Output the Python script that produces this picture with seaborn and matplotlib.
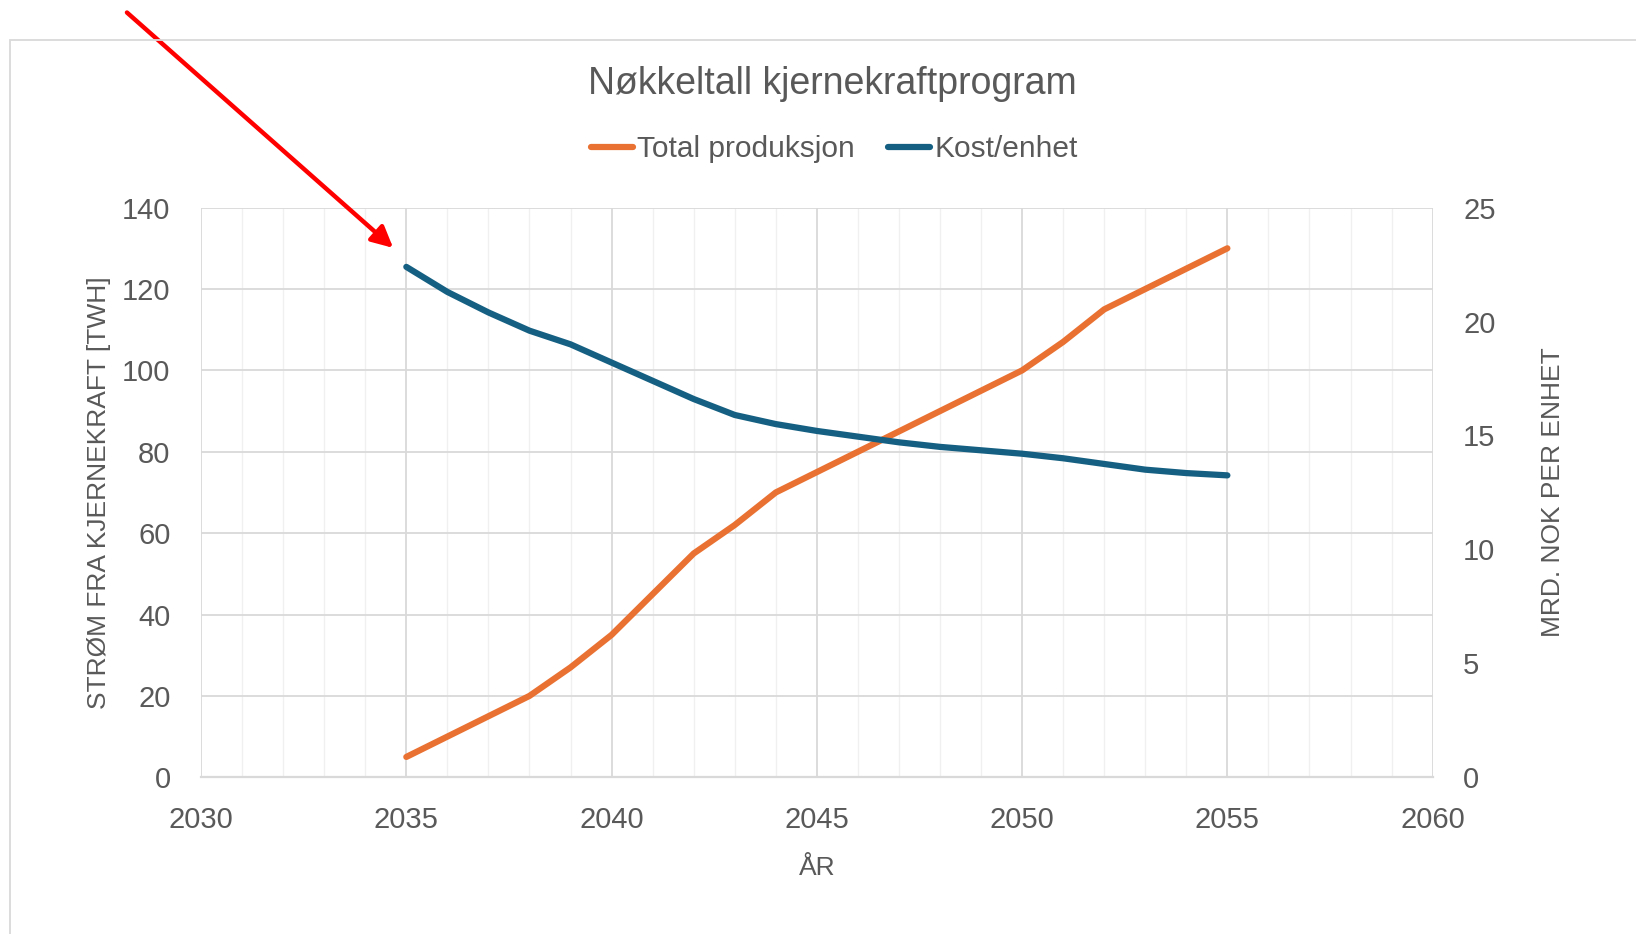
import pandas as pd
import matplotlib.pyplot as plt
import seaborn as sns
from matplotlib.patches import Rectangle
from matplotlib.ticker import MultipleLocator

# data lest av fra figuren
aar = list(range(2035, 2056))
total_produksjon = [5, 10, 15, 20, 27, 35, 45, 55, 62, 70, 75,
                    80, 85, 90, 95, 100, 107, 115, 120, 125, 130]
kost_enhet = [22.4, 21.3, 20.4, 19.6, 19.0, 18.2, 17.4, 16.6, 15.9, 15.5, 15.2,
              14.95, 14.7, 14.5, 14.35, 14.2, 14.0, 13.75, 13.5, 13.35, 13.25]

tittel = "Nøkkeltall kjernekraftprogram"
navn_serier = ["Total produksjon", "Kost/enhet"]
x_ticks = [2030, 2035, 2040, 2045, 2050, 2055, 2060]
venstre_ticks = [0, 20, 40, 60, 80, 100, 120, 140]
hoyre_ticks = [0, 5, 10, 15, 20, 25]

oransje = "#E97132"
blaa = "#156082"
tekst = "#595959"

sns.set_theme(style="white")
plt.rcParams["font.family"] = ["Liberation Sans", "DejaVu Sans"]

df = pd.DataFrame({"aar": aar, "total": total_produksjon, "kost": kost_enhet})

fig = plt.figure(figsize=(16.36, 9.34), dpi=100)
ax = fig.add_axes([0.1229, 0.1678, 0.7528, 0.6099])
ax2 = ax.twinx()

sns.lineplot(data=df, x="aar", y="total", ax=ax, color=oransje, lw=4.5,
             solid_capstyle="round", solid_joinstyle="round", legend=False)
sns.lineplot(data=df, x="aar", y="kost", ax=ax2, color=blaa, lw=4.5,
             solid_capstyle="round", solid_joinstyle="round", legend=False)

# akser
ax.set_xlim(x_ticks[0], x_ticks[-1])
ax.set_ylim(venstre_ticks[0], venstre_ticks[-1])
ax2.set_ylim(hoyre_ticks[0], hoyre_ticks[-1])
ax.set_xticks(x_ticks)
ax.xaxis.set_minor_locator(MultipleLocator(1))
ax.set_yticks(venstre_ticks)
ax2.set_yticks(hoyre_ticks)

ax.set_axisbelow(True)
ax.grid(which="major", color="#d9d9d9", lw=1.3)
ax.grid(which="minor", axis="x", color="#f0f0f0", lw=1.0)
ax2.grid(False)

for a in (ax, ax2):
    for s in a.spines.values():
        s.set_visible(False)
ax.spines["bottom"].set_visible(True)
ax.spines["bottom"].set_color("#d9d9d9")
ax.spines["bottom"].set_linewidth(1.6)

ax.tick_params(axis="both", which="both", length=0, labelsize=21, colors=tekst)
ax.tick_params(axis="x", pad=21)
ax.tick_params(axis="y", pad=22)
ax2.tick_params(axis="y", length=0, labelsize=21, colors=tekst, pad=22)

ax.set_xlabel("ÅR", fontsize=19, color=tekst)
ax.set_ylabel("STRØM FRA KJERNEKRAFT [TWH]", fontsize=19, color=tekst)
ax2.set_ylabel("MRD. NOK PER ENHET", fontsize=19, color=tekst)
ax.xaxis.set_label_coords(0.5, -0.139)
ax.yaxis.set_label_coords(-0.0734, 0.5)
ax2.yaxis.set_label_coords(1.0882, 0.5)

# tittel og forklaring
fig.text(0.5086, 0.9097, tittel, ha="center", va="center", fontsize=27, color=tekst)
handles = [ax.lines[0], ax2.lines[0]]
fig.legend(handles, navn_serier, loc="center", bbox_to_anchor=(0.510, 0.8404),
           ncol=2, frameon=False, fontsize=21.5, handlelength=1.4,
           handletextpad=0.15, columnspacing=1.1, labelcolor=tekst)

# rød pil
ax.annotate("", xy=(2034.68, 130.1), xycoords="data",
            xytext=(0.0776, 0.9866), textcoords="figure fraction",
            arrowprops=dict(arrowstyle="-|>", color="red", lw=3.2,
                            mutation_scale=32, shrinkA=0, shrinkB=0),
            annotation_clip=False)

# ramme rundt diagrammet
fig.patches.append(Rectangle((0.00636, -0.1), 1.2, 1.0576, transform=fig.transFigure,
                             fill=False, edgecolor="#d9d9d9", lw=1.3))

fig.savefig("out.png", dpi=100)
